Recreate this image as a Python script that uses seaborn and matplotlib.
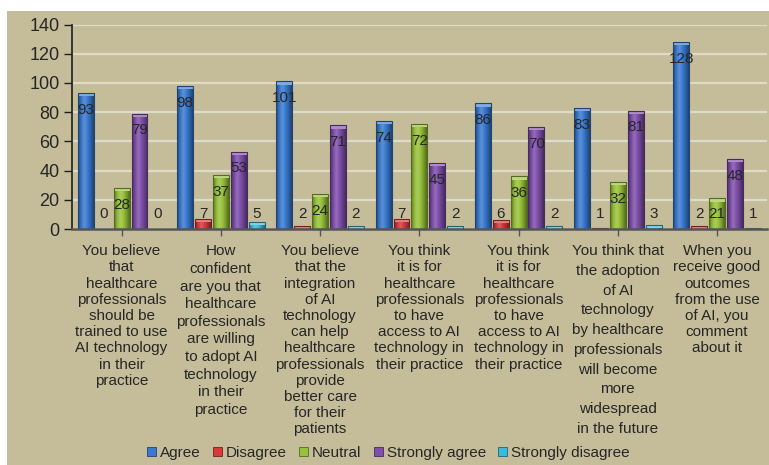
import numpy as np
import pandas as pd
import matplotlib
matplotlib.use("Agg")
import matplotlib.pyplot as plt
import seaborn as sns
from matplotlib.colors import LinearSegmentedColormap, to_rgb
from matplotlib.patches import Rectangle

# ---------------- data ----------------
categories = [
    "You believe\nthat\nhealthcare\nprofessionals\nshould be\ntrained to use\nAI technology\nin their\npractice",
    "How\nconfident\nare you that\nhealthcare\nprofessionals\nare willing\nto adopt AI\ntechnology\nin their\npractice",
    "You believe\nthat the\nintegration\nof AI\ntechnology\ncan help\nhealthcare\nprofessionals\nprovide\nbetter care\nfor their\npatients",
    "You think\nit is for\nhealthcare\nprofessionals\nto have\naccess to AI\ntechnology in\ntheir practice",
    "You think\nit is for\nhealthcare\nprofessionals\nto have\naccess to AI\ntechnology in\ntheir practice",
    "You think that\nthe adoption\nof AI\ntechnology\nby healthcare\nprofessionals\nwill become\nmore\nwidespread\nin the future",
    "When you\nreceive good\noutcomes\nfrom the use\nof AI, you\ncomment\nabout it",
]
series = ["Agree", "Disagree", "Neutral", "Strongly agree", "Strongly disagree"]
agree = [93, 98, 101, 74, 86, 83, 128]
disagree = [0, 7, 2, 7, 6, 1, 2]
neutral = [28, 37, 24, 72, 36, 32, 21]
strongly_agree = [79, 53, 71, 45, 70, 81, 48]
strongly_disagree = [0, 5, 2, 2, 2, 3, 1]
y_ticks = [0, 20, 40, 60, 80, 100, 120, 140]

colors = {
    "Agree": "#3a7ad0",
    "Disagree": "#d63a3c",
    "Neutral": "#98c23a",
    "Strongly agree": "#7f4fab",
    "Strongly disagree": "#3abadc",
}

# unique x keys (two categories share the same text)
keys = [f"q{i}" for i in range(len(categories))]
rows = []
for s, vals in zip(series, [agree, disagree, neutral, strongly_agree, strongly_disagree]):
    for k, v in zip(keys, vals):
        rows.append({"Question": k, "Response": s, "Count": v})
df = pd.DataFrame(rows)

# ---------------- style ----------------
sns.set_theme(style="white")
plt.rcParams["font.family"] = ["Liberation Sans", "DejaVu Sans"]
BG = "#c5bd99"
TXT = "#262626"

fig = plt.figure(figsize=(7.69, 4.65), dpi=100, facecolor="white")
fig.patches.append(Rectangle((7 / 769, 0), 1 - 7 / 769, 1 - 11 / 465,
                             transform=fig.transFigure, facecolor=BG,
                             edgecolor="none", zorder=-10))
ax = fig.add_axes([0.0936, 0.5075, 0.9034, 0.4398])
ax.set_facecolor(BG)

sns.barplot(data=df, x="Question", y="Count", hue="Response", order=keys,
            hue_order=series, palette=colors, width=0.9, gap=0.11,
            ax=ax, legend=False, saturation=1)

ax.set_xlim(-0.5, len(keys) - 0.5)
ax.set_ylim(0, 140)

def shade(c, f):
    r = np.array(to_rgb(c))
    return tuple(np.clip(r * f, 0, 1)) if f < 1 else tuple(np.clip(r + (1 - r) * (f - 1), 0, 1))

grad = np.linspace(0, 1, 64).reshape(1, -1)
for cont, s in zip(ax.containers, series):
    base = colors[s]
    cmap = LinearSegmentedColormap.from_list(
        s, [shade(base, 0.6), shade(base, 0.95), shade(base, 1.18),
            shade(base, 1.0), shade(base, 0.8), shade(base, 0.55)])
    for rect in cont:
        x0, w, h = rect.get_x(), rect.get_width(), rect.get_height()
        rect.set_edgecolor(shade(base, 0.55))
        rect.set_linewidth(0.8)
        if h > 0:
            im = ax.imshow(grad, extent=(x0, x0 + w, 0, h), cmap=cmap,
                           aspect="auto", interpolation="bicubic",
                           zorder=rect.get_zorder() + 0.05)
            im.set_clip_path(rect)
            # lighter top cap
            cap = min(2.2, h)
            ax.add_patch(Rectangle((x0, h - cap), w, cap, facecolor=shade(base, 1.35),
                                   edgecolor="none", zorder=rect.get_zorder() + 0.1))
        rect.set_facecolor("none")
        rect.set_zorder(rect.get_zorder() + 0.2)
        ax.text(x0 + w / 2, max(h - 11.5, 10.5), f"{h:.0f}", ha="center",
                va="center", fontsize=11, color=TXT, zorder=6)

ax.set_xlim(-0.5, len(keys) - 0.5)
ax.set_ylim(0, 140)
ax.set_yticks(y_ticks)
ax.set_xticks(range(len(keys)))
ax.set_xticklabels(categories, fontsize=11, color=TXT, linespacing=1.2)
lbls = ax.get_xticklabels()
lbls[1].set_linespacing(1.33)
lbls[5].set_linespacing(1.52)
ax.set_xlabel("")
ax.set_ylabel("")

ax.yaxis.grid(True, color="#dedbc8", lw=1.6)
ax.set_axisbelow(True)
for sp in ["top", "right"]:
    ax.spines[sp].set_visible(False)
ax.spines["left"].set_color("#1e1e1e")
ax.spines["left"].set_linewidth(1.2)
ax.spines["bottom"].set_color("#555555")
ax.spines["bottom"].set_linewidth(1.8)
ax.spines["bottom"].set_zorder(7)
ax.tick_params(axis="y", left=True, length=6, width=1, color="#1e1e1e",
               pad=3, labelsize=13, labelcolor=TXT)
ax.tick_params(axis="x", bottom=True, length=5, width=1, color="#555555",
               pad=6, labelsize=11, labelcolor=TXT)

handles = [Rectangle((0, 0), 1, 1, facecolor=colors[s], edgecolor=shade(colors[s], 0.55), lw=0.6)
           for s in series]
fig.legend(handles, series, loc="center", bbox_to_anchor=(0.505, 1 - 453 / 465),
           ncol=5, frameon=False, handlelength=0.6, handleheight=0.6,
           handletextpad=0.25, columnspacing=0.8, fontsize=11, labelcolor=TXT)

fig.savefig("out.png", dpi=100, facecolor="white")
